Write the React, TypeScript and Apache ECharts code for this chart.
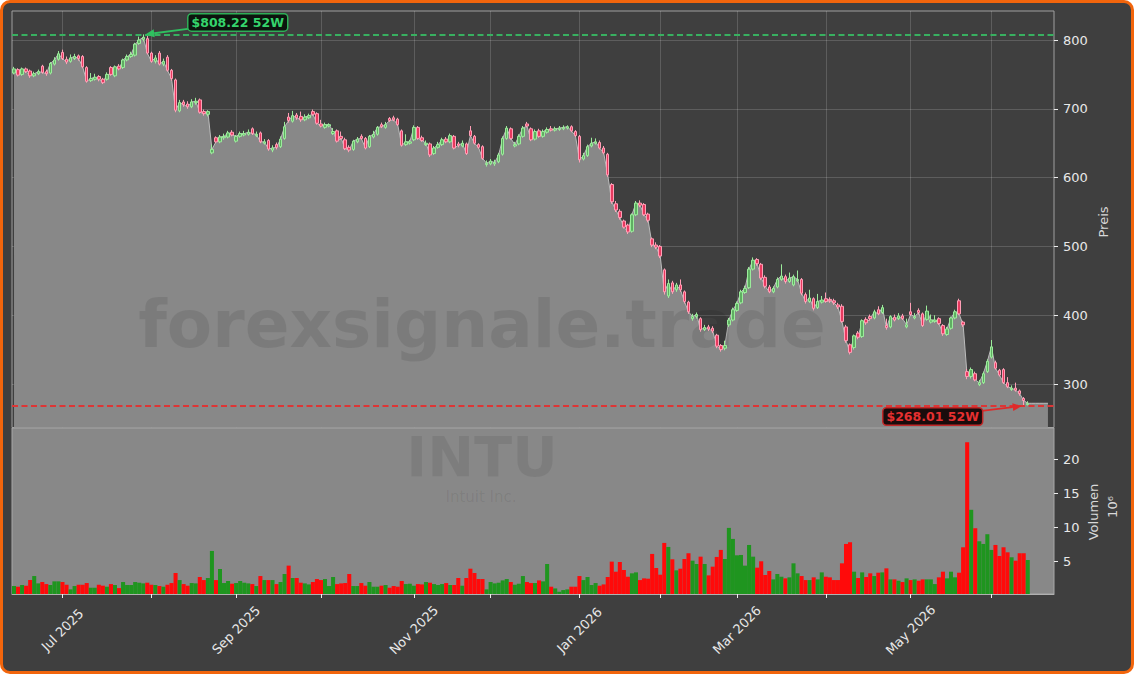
import React, { useEffect, useRef } from 'react';
import * as echarts from 'echarts';

// ---- calendar (categories) ----
const START_DATE = [2025, 6, 12];
const HOLIDAYS = ['2025-06-19', '2025-07-04', '2025-09-01', '2025-11-27', '2025-12-25', '2026-01-01', '2026-01-19', '2026-02-16', '2026-04-03', '2026-05-25', '2026-06-19'];
const PAD_DAYS = 6;
const MONTHS = ['Jan', 'Feb', 'Mar', 'Apr', 'May', 'Jun', 'Jul', 'Aug', 'Sep', 'Oct', 'Nov', 'Dec'];

// ---- OHLCV (USD, volume in millions) ----
const opens = [
  752,757,750,758,755,748,751,762,754,752, 765,772,782,772,769,773,777,776,760,741,
  743,747,743,743,760,748,762,760,771,776, 778,795,801,802,781,769,781,765,775,756,
  742,697,710,707,703,709,713,696,692,636, 658,652,658,659,666,653,660,662,663,671,
  661,665,650,654,640,648,645,657,688,682, 691,689,684,687,696,693,678,673,675,664,
  668,660,655,644,641,652,660,657,645,659, 663,677,673,686,687,685,668,648,650,655,
  673,658,648,649,635,644,648,656,652,660, 649,646,649,668,660,648,645,619,620,620,
  623,634,657,671,646,649,660,678,671,656, 668,660,666,671,669,670,671,672,674,667,
  660,627,632,646,650,651,643,634,590,562, 551,537,531,522,546,563,561,547,511,502,
  500,466,428,447,437,444,434,419,395,398, 395,379,383,381,371,356,352,386,393,407,
  418,433,440,467,481,474,455,441,434,441, 452,456,449,444,450,452,430,420,424,411,
  419,424,423,421,415,413,383,357,353,374, 369,394,398,396,408,404,385,383,397,395,
  399,383,405,396,407,402,394,390,391,395, 385,372,381,396,421,390,318,311,315,299,
  302,318,339,331,320,321,302,292,294,290, 279,270,
];
const closes = [
  758,749,758,754,748,751,754,753,751,766, 771,780,773,768,774,776,773,761,740,744,
  746,743,738,750,750,761,758,771,776,779, 794,800,804,781,769,774,765,769,756,744,
  698,709,706,703,710,711,695,693,696,641, 652,659,660,665,662,660,664,664,666,664,
  663,652,652,641.5,643,644,656,674,683,690, 687,684,688,690,692,679,675,677,677,667,
  653,657,642,640,653,656,657,643,660,663, 673,674,677,683,684,677,647,652,652,673,
  657,654,650,633,643,648,655,652,661,643, 647,650,635,661,650,644,628,621,624,622,
  633,657,672,657,648,660,672,675,655,667, 660,667,670,669,671,672,673,674,668,661,
  626,632,645,650,652,643,636,604,565,553, 542,528,521,546,563,560,546,538,502,499,
  486,434,446,434,444,437,420,405,398,401, 379,382,380,377,355,350,356,393,408,417,
  434,439,467,480,475,454,442,434,439,452, 457,449,454,456,452,432,420,425,410,420,
  422,420,421,418,412,391,363,346,370,368, 392,389,395,405,402,411,382,398,393,399,
  395,386,401,398,404,385,406,393,393,388, 373,380,396,405,402,386,311,321,306,302,
  315,333,354,323,313,302,296,294,291,286, 276,272,
];
const highs = [
  761,759,760,760,757,754,757,764,757,768, 775,784,786,776,779,780,779,778,762,752,
  751,749,745,753,762,763,765,773,779,783, 796,805,808.22,806,783,778,784,773,778,758,
  744,713,713,711,714,716,715,699,698,648, 660,662,664,668,669,662,667,668,670,673,
  667,667,656,656,647,651,660,681,694,697, 694,696,692,693,699,695,684,680,679,672,
  670,667,658,647,655,659,663,659,662,668, 675,680,681,688,690,687,670,663,655,676,
  675,661,654,651,646,652,658,659,664,662, 652,654,651,675,662,650,647,625,627,626,
  636,660,675,673,652,663,675,681,673,670, 671,670,673,675,674,675,676,676,676,669,
  662,636,648,658,657,654,646,636,592,566, 554,539,533,548,566,567,563,549,513,506,
  502,468,452,450,447,452,436,421,402,404, 397,386,386,384,373,358,363,396,411,420,
  437,443,470,484,483,476,458,444,442,455, 474,459,462,459,465,454,433,437,426,431,
  428,433,426,424,418,416,386,359,372,377, 394,397,401,408,413,415,395,400,401,403,
  402,395,418,403,410,404,414,401,400,397, 387,383,398,408,424,392,322,324,318,306,
  318,336,364,334,322,323,310,298,302,292, 281,275,
];
const lows = [
  750,747,748,752,745,746,749,751,748,750, 763,770,771,765,767,771,770,759,738,739,
  741,740,736,741,748,746,756,758,769,774, 776,793,798,779,767,766,763,762,754,741,
  695,695,703,700,701,706,693,690,689,634, 650,650,655,657,660,651,658,660,661,662,
  659,650,648,639,637,641,643,655,680,680, 684,681,682,685,690,677,673,671,673,662,
  651,655,640,637,639,650,655,641,643,657, 661,672,671,681,682,675,645,646,648,653,
  655,652,646,630,633,642,646,650,650,641, 644,644,633,659,648,642,626,616,618,617,
  621,632,655,655,644,647,658,673,653,654, 658,658,664,667,667,668,669,670,666,659,
  622,625,630,644,648,641,634,601,562,550, 539,526,518,520,544,557,544,535,499,496,
  483,430,425,431,434,434,417,402,392,395, 376,377,377,374,352,347,349,383,391,405,
  416,431,438,465,472,451,439,432,432,439, 450,446,447,442,448,429,417,418,407,409,
  417,418,418,415,409,389,360,343,350,365, 367,386,392,394,400,402,379,381,391,393,
  393,381,399,394,401,383,392,388,389,386, 370,370,379,394,400,383,307,308,304,297,
  300,316,337,321,311,300,294,290,289,283, 268.01,269,
];
const volumes = [
  1.42,1.32,1.57,1.47,2.30,2.89,1.81,2.01,1.71,1.57, 2.11,2.11,2.01,1.61,0.93,1.42,1.61,1.61,1.86,1.17,
  1.17,1.61,1.47,1.32,1.71,1.57,1.12,2.01,1.57,1.57, 2.01,1.91,1.81,1.91,1.61,1.57,1.42,1.32,1.61,1.86,
  3.34,2.30,1.71,1.47,1.86,1.81,2.75,2.30,2.60,6.58, 2.30,3.93,1.86,2.16,1.76,1.86,2.16,1.91,1.81,1.71,
  1.42,2.89,2.30,2.30,2.30,1.71,2.01,3.19,4.42,2.60, 2.60,1.91,1.81,1.66,2.01,2.45,2.30,2.45,1.42,2.75,
  1.71,1.81,1.86,3.19,1.42,1.42,1.86,1.47,2.01,1.32, 1.32,1.47,1.57,1.17,1.42,1.32,2.16,1.71,1.76,1.47,
  1.71,1.66,2.01,1.91,1.71,1.57,1.71,1.86,1.57,1.57, 2.60,1.47,2.60,3.97,3.34,2.45,2.45,0.93,2.01,1.81,
  1.91,2.25,2.45,2.01,1.61,1.76,2.89,2.01,1.86,1.86, 2.25,2.11,4.66,1.32,1.07,0.58,0.83,0.93,1.32,1.32,
  2.89,2.30,2.75,1.57,1.86,1.47,1.66,2.75,5.01,3.53, 4.96,3.78,2.79,3.29,3.43,2.30,2.55,2.50,6.14,4.07,
  3.09,7.76,7.17,5.35,3.73,3.97,5.40,6.24,5.15,4.66, 5.74,4.66,2.99,4.27,5.70,6.73,5.40,9.97,8.35,5.94,
  5.99,4.42,7.46,5.74,4.12,5.06,3.04,3.63,2.40,3.19, 2.79,2.55,2.70,4.76,3.29,2.89,2.30,2.30,2.70,2.40,
  3.43,2.79,2.70,2.30,2.30,4.76,7.61,7.86,3.53,2.60, 3.43,2.75,3.29,2.89,3.38,3.43,4.02,2.40,2.40,2.20,
  2.01,2.55,2.30,2.40,2.20,2.40,2.40,2.40,1.71,2.70, 3.53,2.55,3.53,2.70,3.38,7.12,22.56,12.63,9.92,8.00,
  7.61,9.04,6.73,7.46,5.84,7.12,6.38,5.65,5.15,6.24, 6.24,5.25,
];

const PRICE_TICKS = [300, 400, 500, 600, 700, 800];
const VOLUME_TICKS = [5, 10, 15, 20];
const PRICE_RANGE = [236.8, 842.2];
const VOLUME_RANGE = [0.25, 24.66];
const SYMBOL = 'INTU';
const COMPANY = 'Intuit Inc.';
const WATERMARK = 'forexsignale.trade';

function pad2(n: number) { return n < 10 ? '0' + n : '' + n; }
function tradingDays(count: number): string[] {
  const out: string[] = [];
  const d = new Date(Date.UTC(START_DATE[0], START_DATE[1] - 1, START_DATE[2]));
  while (out.length < count) {
    const s = `${d.getUTCFullYear()}-${pad2(d.getUTCMonth() + 1)}-${pad2(d.getUTCDate())}`;
    const wd = d.getUTCDay();
    if (wd !== 0 && wd !== 6 && HOLIDAYS.indexOf(s) < 0) out.push(s);
    d.setUTCDate(d.getUTCDate() + 1);
  }
  return out;
}

const FONT = 'DejaVu Sans';

export default function App() {
  const ref = useRef<HTMLDivElement>(null);
  useEffect(() => {
    if (!ref.current) return;
    const chart = echarts.init(ref.current, undefined, { renderer: 'svg' });
    const n = closes.length;
    const dates = tradingDays(n + PAD_DAYS);
    const isMonthStart = (i: number) => i > 0 && dates[i].slice(0, 7) !== dates[i - 1].slice(0, 7);
    const isLabel = (i: number) => isMonthStart(i) && (parseInt(dates[i].slice(5, 7), 10) % 2 === 1);
    const fmt = (v: string) => `${MONTHS[parseInt(v.slice(5, 7), 10) - 1]} ${v.slice(0, 4)}`;

    const candleData = closes.map((c, i) => [opens[i], c, lows[i], highs[i]]);
    const last = closes[n - 1];
    const areaData: number[] = closes.slice();
    for (let k = 0; k < PAD_DAYS - 1; k++) areaData.push(last);
    const volData = volumes.map((v, i) => ({
      value: v,
      itemStyle: { color: closes[i] >= opens[i] ? '#1f951f' : '#ff0a0a' },
    }));

    let hiIdx = 0, loIdx = 0;
    highs.forEach((h, i) => { if (h > highs[hiIdx]) hiIdx = i; });
    lows.forEach((l, i) => { if (l < lows[loIdx]) loIdx = i; });
    const hiVal = highs[hiIdx];
    const loVal = lows[loIdx];

    const gridLine = 'rgba(255,255,255,0.16)';
    chart.setOption({
      animation: false,
      backgroundColor: 'transparent',
      textStyle: { fontFamily: FONT },
      grid: [
        { left: 12, right: 80, top: 11, height: 416.5, show: true, borderColor: '#a0a0a0', borderWidth: 1, backgroundColor: 'transparent' },
        { left: 12, right: 80, top: 428, height: 166, show: true, borderColor: '#a8a8a8', borderWidth: 1, backgroundColor: '#888888' },
      ],
      xAxis: [
        {
          type: 'category', gridIndex: 0, data: dates, boundaryGap: true,
          axisLine: { show: false }, axisTick: { show: false }, axisLabel: { show: false },
          splitLine: { show: true, interval: (i: number) => isMonthStart(i), alignWithLabel: true, lineStyle: { color: gridLine, width: 1 } },
        },
        {
          type: 'category', gridIndex: 1, data: dates, boundaryGap: true,
          axisLine: { show: true, lineStyle: { color: '#b0b0b0' } },
          axisTick: { show: true, interval: (i: number) => isMonthStart(i), alignWithLabel: true, length: 4, lineStyle: { color: '#eeeeee' } },
          axisLabel: {
            show: true, interval: (i: number) => isLabel(i), formatter: fmt, rotate: 45,
            align: 'center', verticalAlign: 'middle', margin: 36,
            color: '#e8e8e8', fontSize: 13, fontFamily: FONT,
          },
          splitLine: { show: false },
        },
      ],
      yAxis: [
        {
          type: 'value', gridIndex: 0, position: 'right', min: PRICE_RANGE[0], max: PRICE_RANGE[1],
          axisLine: { show: false },
          axisTick: { show: true, length: 4, lineStyle: { color: '#eeeeee' }, customValues: PRICE_TICKS },
          axisLabel: { customValues: PRICE_TICKS, color: '#e8e8e8', fontSize: 13, margin: 9, fontFamily: FONT },
          splitLine: { show: true, lineStyle: { color: gridLine, width: 1 } },
        },
        {
          type: 'value', gridIndex: 1, position: 'right', min: VOLUME_RANGE[0], max: VOLUME_RANGE[1],
          axisLine: { show: false },
          axisTick: { show: true, length: 4, lineStyle: { color: '#eeeeee' }, customValues: VOLUME_TICKS },
          axisLabel: { customValues: VOLUME_TICKS, color: '#e8e8e8', fontSize: 13, margin: 9, fontFamily: FONT },
          splitLine: { show: false },
        },
      ],
      series: [
        {
          type: 'line', xAxisIndex: 0, yAxisIndex: 0, data: areaData, symbol: 'none', z: 1, silent: true,
          lineStyle: { color: '#bcbcbc', width: 1 },
          areaStyle: { color: '#888888', opacity: 1, origin: 'start' },
        },
        {
          type: 'candlestick', xAxisIndex: 0, yAxisIndex: 0, data: candleData, z: 3, barWidth: 3,
          itemStyle: { color: '#5fae62', color0: '#e8395f', borderColor: '#9bec9b', borderColor0: '#ff9fb6', borderWidth: 1 },
          markLine: {
            silent: true, symbol: ['none', 'none'], label: { show: false },
            data: [
              { yAxis: hiVal, lineStyle: { color: '#38b060', type: [6, 3.5], width: 1.8 } },
              { yAxis: loVal, lineStyle: { color: '#dd3535', type: [6, 3.5], width: 1.8 } },
            ],
          },
        },
        {
          type: 'bar', xAxisIndex: 1, yAxisIndex: 1, data: volData, barCategoryGap: '0%', z: 3,
        },
      ],
    });

    const hp = chart.convertToPixel({ xAxisIndex: 0, yAxisIndex: 0 }, [dates[hiIdx], hiVal]) as number[];
    const lp = chart.convertToPixel({ xAxisIndex: 0, yAxisIndex: 0 }, [dates[loIdx], loVal]) as number[];

    const arrow = (sx: number, sy: number, tx: number, ty: number, color: string) => {
      const dx = tx - sx, dy = ty - sy;
      const len = Math.sqrt(dx * dx + dy * dy);
      const ux = dx / len, uy = dy / len;
      const bx = tx - ux * 9, by = ty - uy * 9;
      const nx = -uy, ny = ux;
      return [
        { type: 'line', z: 20, shape: { x1: sx, y1: sy, x2: bx, y2: by }, style: { stroke: color, lineWidth: 1.8 } },
        { type: 'polygon', z: 20, shape: { points: [[tx, ty], [bx + nx * 4, by + ny * 4], [bx - nx * 4, by - ny * 4]] }, style: { fill: color } },
      ];
    };

    const hiBox = { cx: hp[0] + 94.5, cy: hp[1] - 12 };
    const loBox = { cx: lp[0] - 91, cy: lp[1] + 10.5 };

    chart.setOption({
      graphic: [
        { type: 'text', z: 2, silent: true, x: 482, y: 324, style: { text: WATERMARK, font: `bold 66px ${FONT}`, fill: 'rgba(0,0,0,0.09)', align: 'center', verticalAlign: 'middle' } },
        { type: 'text', z: 2, silent: true, x: 482, y: 456, style: { text: SYMBOL, font: `bold 56px ${FONT}`, fill: 'rgba(0,0,0,0.075)', align: 'center', verticalAlign: 'middle' } },
        { type: 'text', z: 2, silent: true, x: 481, y: 497, style: { text: COMPANY, font: `15px ${FONT}`, fill: 'rgba(0,0,0,0.075)', align: 'center', verticalAlign: 'middle' } },
        { type: 'text', z: 10, silent: true, x: 1103, y: 222, rotation: Math.PI / 2, style: { text: 'Preis', font: `13px ${FONT}`, fill: '#d8d8d8', align: 'center', verticalAlign: 'middle' } },
        { type: 'text', z: 10, silent: true, x: 1093, y: 512, rotation: Math.PI / 2, style: { text: 'Volumen', font: `13px ${FONT}`, fill: '#d8d8d8', align: 'center', verticalAlign: 'middle' } },
        { type: 'text', z: 10, silent: true, x: 1112, y: 507, rotation: Math.PI / 2, style: { text: '10⁶', font: `13px ${FONT}`, fill: '#d8d8d8', align: 'center', verticalAlign: 'middle' } },
        ...arrow(hiBox.cx - 48, hp[1] - 5.7, hp[0] + 2, hp[1], '#2fc05f'),
        {
          type: 'text', z: 21, silent: true, x: hiBox.cx, y: hiBox.cy,
          style: {
            text: `$${hiVal.toFixed(2)} 52W`, font: `bold 12.5px ${FONT}`, fill: '#35d46c', align: 'center', verticalAlign: 'middle',
            backgroundColor: '#0c140e', borderColor: '#2fae57', borderWidth: 1.5, borderRadius: 3, padding: [2, 3, 1, 3],
          },
        },
        ...arrow(loBox.cx + 49, lp[1] + 4.8, lp[0] - 2, lp[1], '#e02a2a'),
        {
          type: 'text', z: 21, silent: true, x: loBox.cx, y: loBox.cy,
          style: {
            text: `$${loVal.toFixed(2)} 52W`, font: `bold 12.5px ${FONT}`, fill: '#e53030', align: 'center', verticalAlign: 'middle',
            backgroundColor: '#1a0c0c', borderColor: '#c02828', borderWidth: 1.5, borderRadius: 3, padding: [2, 3, 1, 3],
          },
        },
      ],
    });

    return () => { chart.dispose(); };
  }, []);

  return (
    <div style={{ position: 'fixed', left: 0, top: 0, width: 1134, height: 674 }}>
      <div style={{ position: 'absolute', left: 0, top: 0, width: 1134, height: 674, boxSizing: 'border-box', border: '3px solid #f2650c', borderRadius: 10, background: '#3f3f3f' }} />
      <div ref={ref} style={{ position: 'absolute', left: 0, top: 0, width: 1134, height: 674 }} />
    </div>
  );
}
